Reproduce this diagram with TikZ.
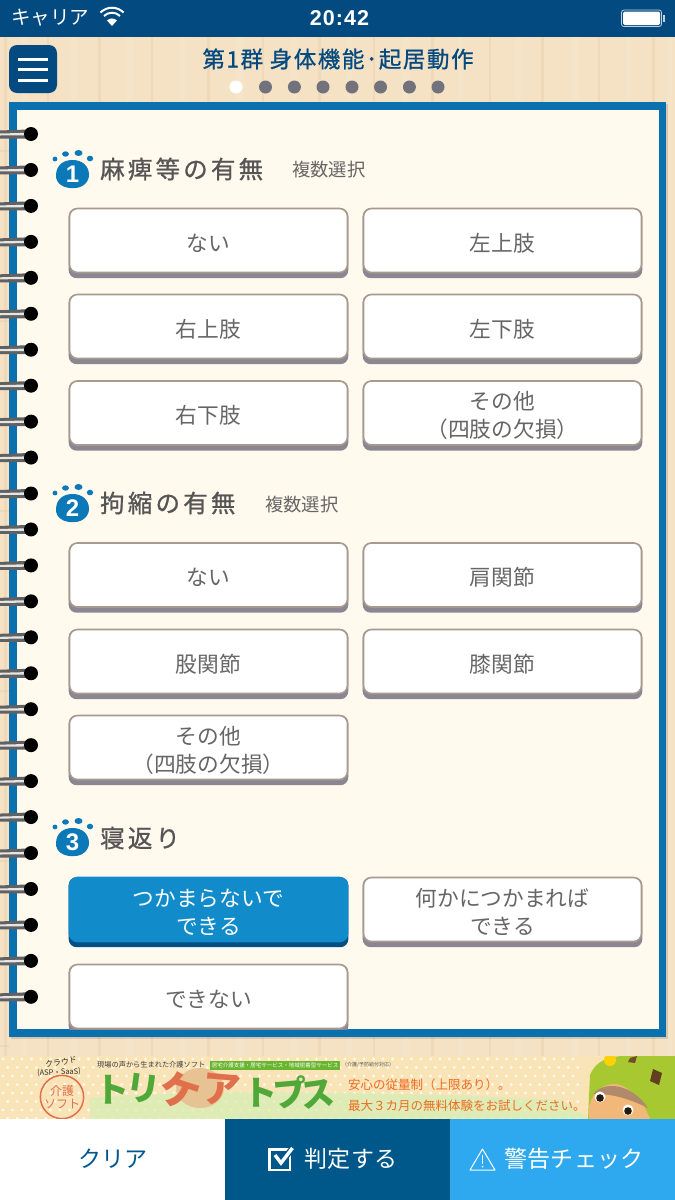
\documentclass[tikz,border=0pt]{standalone}
\usepackage{fontspec}
\setmainfont{Noto Sans CJK JP}
\newfontfamily\latinf{Liberation Sans}
\usetikzlibrary{calc}
\definecolor{navy}{HTML}{034A80}
\definecolor{wood}{HTML}{F5E1C4}
\definecolor{woodd}{HTML}{E4C9A2}
\definecolor{woodl}{HTML}{FAEBD6}
\definecolor{frameb}{HTML}{0B70AE}
\definecolor{paper}{HTML}{FFF9EE}
\definecolor{txtg}{HTML}{666666}
\definecolor{headg}{HTML}{555555}
\definecolor{bord}{HTML}{A89A8C}
\definecolor{shad}{HTML}{8A8793}
\definecolor{sel}{HTML}{118BC9}
\definecolor{seld}{HTML}{034E85}
\definecolor{iconb}{HTML}{0B78B8}
\definecolor{barm}{HTML}{00588A}
\definecolor{barr}{HTML}{2EA9F0}
\definecolor{grn}{HTML}{4FA838}
\definecolor{org}{HTML}{E0704C}
\definecolor{orgt}{HTML}{EE6B22}
\definecolor{bann}{HTML}{F9E4B8}
\definecolor{dotg}{HTML}{72727C}
\definecolor{headgreen}{HTML}{A8C832}
\definecolor{skin}{HTML}{F2B87A}
\definecolor{hair}{HTML}{B08A6A}
\tikzset{
  btnface/.style={draw=bord,line width=1.6pt,fill=white,rounded corners=8pt,minimum width=278pt,minimum height=64pt,inner sep=0pt},
  btnshadow/.style={fill=shad,rounded corners=8pt,minimum width=279.6pt,minimum height=70pt,inner sep=0pt},
  btntext/.style={inner sep=0pt,align=center,text=txtg,font=\fontsize{21.7}{28.3}\selectfont},
  selface/.style={btnface,draw=sel,fill=sel},
  selshadow/.style={btnshadow,fill=seld},
  seltext/.style={btntext,text=white},
  head/.style={anchor=west,inner sep=0pt,text=headg,font=\fontsize{24.5}{26}\selectfont\addfontfeature{LetterSpace=13,FakeBold=0.9}},
  subhead/.style={anchor=west,inner sep=0pt,text=txtg,font=\fontsize{18.3}{20}\selectfont},
  bartext/.style={inner sep=0pt,font=\fontsize{23}{25}\selectfont\addfontfeature{LetterSpace=1}},
  ban/.style={inner sep=0pt,font=\fontsize{#1}{#1}\selectfont},
  kana/.style={inner sep=0pt,text=grn,font=\fontsize{34}{34}\selectfont\bfseries},
}
\newcommand{\btn}[5][btn]{%
  \node[#1shadow] (#2s) at (#3,#4+2.7) {};
  \node[#1face] (#2) at (#3,#4) {};
  \node[#1text] (#2t) at (#3,#4+2.6) {#5};}
\newcommand{\pawicon}[4]{%
  \begin{scope}[shift={(#2,#3)}]
    \fill[iconb] (-16.5,1) .. controls (-16,-10) and (-8,-14) .. (0,-14) .. controls (10,-14) and (16,-8) .. (16.5,0)
       .. controls (17,8) and (10,14) .. (2,14) .. controls (-8,15) and (-17,10) .. (-16.5,1) -- cycle;
    \fill[iconb] (-17.5,-15) circle (2.4pt);
    \fill[iconb] (-7,-20) ellipse (3.4pt and 2.7pt);
    \fill[iconb] (6,-21) ellipse (4pt and 3pt);
    \fill[iconb] (17.5,-15.5) ellipse (3.2pt and 2.8pt);
    \node[inner sep=0pt,text=white,font=\latinf\fontsize{24}{24}\selectfont\bfseries] (#1) at (0,0.5) {#4};
  \end{scope}}
\begin{document}
\begin{tikzpicture}[x=1pt,y=-1pt]
\useasboundingbox (0,0) rectangle (675,1200);
% wood
\fill[wood] (0,0) rectangle (675,1200);
\foreach \x/\w/\c in {4/3/woodd,22/5/woodl,47/2/woodd,71/6/woodl,98/3/woodd,126/7/woodl,151/2/woodd,180/5/woodl,207/3/woodd,236/8/woodl,262/2/woodd,291/6/woodl,318/3/woodd,347/5/woodl,373/2/woodd,402/7/woodl,431/3/woodd,458/5/woodl,489/2/woodd,515/6/woodl,541/3/woodd,572/7/woodl,598/2/woodd,626/5/woodl,652/3/woodd,668/4/woodl}
  \fill[\c,opacity=.3] (\x,36) rectangle (\x+\w,1056);
\foreach \y in {150,320,510,690,860,1045} \fill[woodd,opacity=.35] (0,\y) rectangle (9,\y+1.5);
% status bar
\fill[navy] (0,0) rectangle (675,36.5);
\node[inner sep=0pt,anchor=west,text=white,font=\fontsize{19.5}{20}\selectfont] (carrier) at (11,18) {キャリア};
\fill[white] (112,26) -- (107,20.5) arc[start angle=135,end angle=45,radius=7pt] -- cycle;
\draw[white,line width=2pt] (104,16) arc[start angle=135,end angle=45,radius=11.3pt];
\draw[white,line width=2pt] (100.5,12.5) arc[start angle=135,end angle=45,radius=16.3pt];
\node[inner sep=0pt,text=white,font=\latinf\fontsize{21.5}{21}\selectfont\bfseries\addfontfeature{LetterSpace=5}] (clock) at (339.5,18) {20:42};
\draw[white!75!navy,line width=.8pt,rounded corners=2.5pt] (621.5,10) rectangle (661.5,26.5);
\fill[white,rounded corners=1.5pt] (623,11.5) rectangle (660,25);
\fill[white!75!navy] (662.5,15) rectangle (664.5,21.5);
% menu button
\node[fill=navy,rounded corners=8pt,minimum size=48pt,inner sep=0pt] (menu) at (33,69) {};
\foreach \y in {59,69,80} \fill[white] (18,\y-1.5) rectangle (48,\y+1.5);
% title
\node[inner sep=0pt,text=navy,font=\fontsize{22.5}{23}\selectfont\addfontfeature{LetterSpace=7,FakeBold=0.9}] (title) at (338,59) {第1群 身体機能･起居動作};
\fill[white] (236,87) circle (6.5pt);
\foreach \x in {265.5,294.4,323,352,380.5,409.4,438} \fill[dotg] (\x,87) circle (6.5pt);
% notebook
\fill[black,opacity=.12] (11,104) rectangle (668,1039);
\fill[frameb] (9,102) rectangle (666,1037);
\fill[paper] (17,110) rectangle (658.5,1029);
\begin{scope}
\clip (17,110) rectangle (658.5,1029);
\pawicon{icon1}{72.5}{174}{1}
\node[head] (h1) at (100,169) {麻痺等の有無};
\node[subhead] (s1) at (292,170) {複数選択};
\btn{a1}{208.5}{240.5}{ない}
\btn{a2}{502.5}{240.5}{左上肢}
\btn{a3}{208.5}{326.5}{右上肢}
\btn{a4}{502.5}{326.5}{左下肢}
\btn{a5}{208.5}{413}{右下肢}
\btn{a6}{502.5}{413}{その他\\（四肢の欠損）}
\pawicon{icon2}{72.5}{508}{2}
\node[head] (h2) at (100,503) {拘縮の有無};
\node[subhead] (s2) at (265,505) {複数選択};
\btn{b1}{208.5}{575}{ない}
\btn{b2}{502.5}{575}{肩関節}
\btn{b3}{208.5}{661.5}{股関節}
\btn{b4}{502.5}{661.5}{膝関節}
\btn{b5}{208.5}{747.5}{その他\\（四肢の欠損）}
\pawicon{icon3}{72.5}{842}{3}
\node[head] (h3) at (100,838) {寝返り};
\btn[sel]{c1}{208.5}{909.5}{つかまらないで\\できる}
\btn{c2}{502.5}{909.5}{何かにつかまれば\\できる}
\btn{c3}{208.5}{996.5}{できない}
\end{scope}
% rings
\foreach \i in {0,...,24}{
  \pgfmathsetmacro{\yy}{134+\i*35.95}
  \fill[black!62] (0,\yy-3.5) -- (28,\yy-4.5) -- (28,\yy+4.5) -- (0,\yy+4.5) -- cycle;
  \fill[black!10] (0,\yy-.5) -- (28,\yy-1.2) -- (28,\yy+1.3) -- (0,\yy+1.5) -- cycle;
  \fill[black] (31,\yy) circle (7pt);
}
% banner
\begin{scope}
\clip (0,1056) rectangle (675,1119);
\fill[bann] (0,1056) rectangle (675,1119);
\foreach \yi in {0,...,7}{\foreach \xi in {0,...,60}{
  \fill[white,opacity=.8] ({3+\xi*9.5+mod(\yi,2)*4.75},{1059+\yi*8.5}) circle (1.6pt);}}
\fill[yellow!45!green!30!white,opacity=.7] (90,1098) .. controls (200,1088) and (400,1092) .. (560,1100) -- (590,1119) -- (90,1119) -- cycle;
\fill[woodd!90!orange] (200,1088) ellipse (24pt and 20pt);
\node[ban=7.2,text=black!75,anchor=west] (b1) at (97,1065) {現場の声から生まれた介護ソフト};
\node[fill=grn!85!yellow,minimum width=130pt,minimum height=9pt,inner sep=0pt,text=white,font=\fontsize{5.5}{6}\selectfont] (b2) at (275,1065) {居宅介護支援・居宅サービス・地域密着型サービス};
\node[ban=5,text=black!65,anchor=west] (b3) at (342,1065) {（介護/予防給付対応）};
\node[ban=8,text=black!80,rotate=10] (b4) at (61,1062) {クラウド};
\node[ban=7.5,text=black!80,rotate=3] (b5) at (59,1072.5) {(ASP・SaaS)};
\node[circle,draw=org,line width=1.5pt,minimum size=38pt,inner sep=0pt,align=center,text=org,font=\fontsize{12}{13.5}\selectfont] (b6) at (62,1097) {介護\\ソフト};
\node[kana] (k1) at (112,1090) {ト};
\node[kana,rotate=-8] (k2) at (143,1089) {リ};
\node[kana,text=org,rotate=-18,font=\fontsize{40}{40}\selectfont\bfseries] (k3) at (180,1091) {ケ};
\node[kana,text=org,rotate=-5,font=\fontsize{38}{38}\selectfont\bfseries] (k4) at (222,1090) {ア};
\node[kana] (k5) at (260,1093) {ト};
\node[kana,rotate=5] (k6) at (290,1092) {プ};
\node[kana,rotate=8] (k8) at (318,1094) {ス};
\node[ban=12.5,text=orgt,anchor=west] (b7) at (348,1085) {安心の従量制（上限あり）。};
\node[ban=12.5,text=orgt,anchor=west] (b8) at (348,1106) {最大３カ月の無料体験をお試しください。};
% character
\fill[headgreen] (590,1075) .. controls (596,1060) and (610,1056) .. (625,1056) -- (675,1056) -- (675,1119) -- (588,1119) -- cycle;
\fill[skin] (589,1119) .. controls (586,1098) and (600,1083) .. (616,1084) .. controls (632,1087) and (645,1105) .. (650,1119) -- cycle;
\fill[hair] (593,1094) .. controls (605,1080) and (632,1084) .. (648,1108) .. controls (632,1100) and (612,1093) .. (593,1094) -- cycle;
\fill[white] (600,1097) circle (5.5pt);
\fill[black!80!brown] (600,1098) circle (3.8pt);
\fill[white] (628,1110) circle (5.5pt);
\fill[black!80!brown] (628,1111) circle (3.8pt);
\fill[yellow!70!orange] (610,1060) circle (6pt);
\fill[brown!50!black] (662,1073) -- (659,1085) -- (650,1081) -- (653,1069) -- cycle;
\fill[brown!60!black] (630,1058) -- (637,1056) -- (635,1063) -- (628,1062) -- cycle;
\end{scope}
% bottom bar
\fill[white] (0,1119) rectangle (225,1200);
\fill[barm] (225,1119) rectangle (450,1200);
\fill[barr] (450,1119) rectangle (675,1200);
\node[bartext,text=barm] (clear) at (113,1159) {クリア};
\draw[white,line width=2.6pt] (269.3,1149.3) rectangle (290,1170);
\draw[barm,line width=6pt] (275,1155) -- (281,1163) -- (292.5,1148);
\draw[white,line width=3.4pt] (275,1155) -- (281,1163) -- (292.5,1148);
\node[bartext,text=white] (judge) at (351,1159) {判定する};
\draw[white,line width=1pt,line join=round] (482.5,1149) -- (495,1170) -- (470,1170) -- cycle;
\fill[white] (481.8,1155) rectangle (483.2,1164);
\fill[white] (482.5,1166.5) circle (1pt);
\node[bartext,text=white] (warn) at (574,1159) {警告チェック};
\end{tikzpicture}
\end{document}
